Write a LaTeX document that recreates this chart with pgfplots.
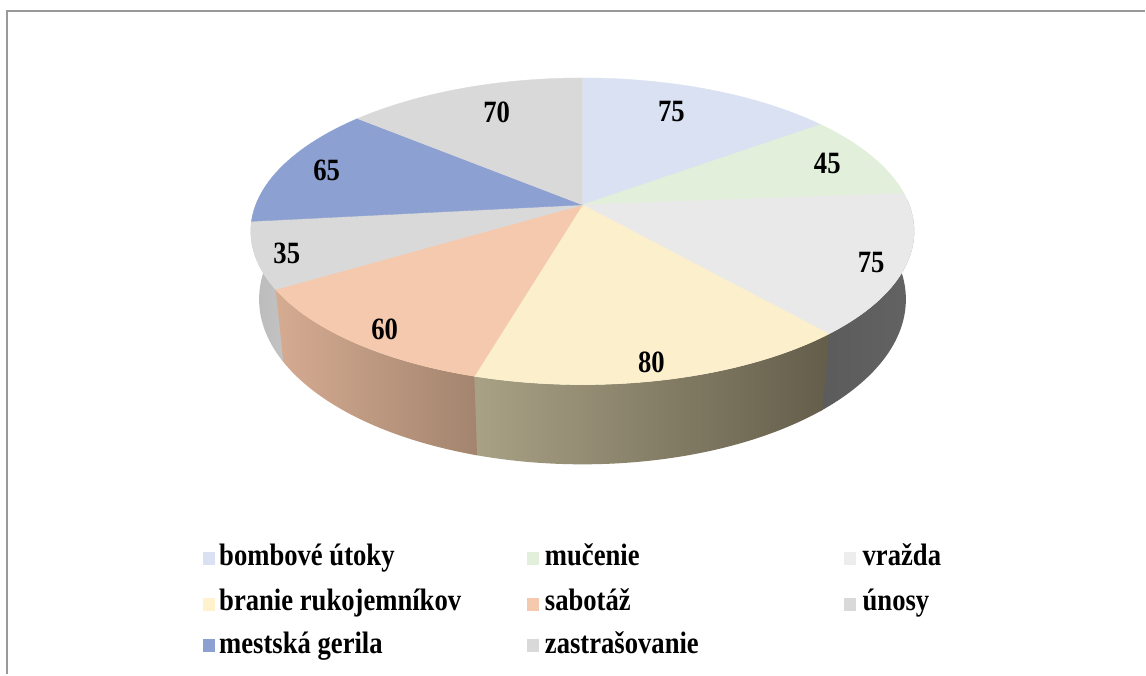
\documentclass[border=0pt]{standalone}
\usepackage{pgfplots}
\pgfplotsset{compat=1.18}
\usepackage{fontspec}
\setmainfont{Liberation Serif}[FakeStretch=0.86]

\definecolor{cA}{HTML}{D9E1F2}
\definecolor{cB}{HTML}{E2EFDA}
\definecolor{cC}{HTML}{E9E9E9}
\definecolor{cD}{HTML}{FCEFCB}
\definecolor{cE}{HTML}{F5C9AD}
\definecolor{cF}{HTML}{D9D9D9}
\definecolor{cG}{HTML}{8DA0D2}
\definecolor{cH}{HTML}{D9D9D9}
\definecolor{sCa}{HTML}{5B5B5B}
\definecolor{sCb}{HTML}{636363}
\definecolor{sDa}{HTML}{ABA387}
\definecolor{sDb}{HTML}{645D4A}
\definecolor{sEa}{HTML}{D6AC92}
\definecolor{sEb}{HTML}{A3846E}
\definecolor{sFa}{HTML}{BBBBBB}
\definecolor{sFb}{HTML}{C2C2C2}
\definecolor{frame}{HTML}{999999}
\definecolor{lC}{HTML}{EDEDED}
\definecolor{lD}{HTML}{FFF2CC}

% data
\def\vA{75}\def\vB{45}\def\vC{75}\def\vD{80}
\def\vE{60}\def\vF{35}\def\vG{65}\def\vH{70}
\pgfmathsetmacro\tot{\vA+\vB+\vC+\vD+\vE+\vF+\vG+\vH}
\pgfmathsetmacro\aA{0}
\pgfmathsetmacro\aB{\aA+360*(\vA/\tot)}
\pgfmathsetmacro\aC{\aB+360*(\vB/\tot)}
\pgfmathsetmacro\aD{\aC+360*(\vC/\tot)}
\pgfmathsetmacro\aE{\aD+360*(\vD/\tot)}
\pgfmathsetmacro\aF{\aE+360*(\vE/\tot)}
\pgfmathsetmacro\aG{\aF+360*(\vF/\tot)}
\pgfmathsetmacro\aH{\aG+360*(\vG/\tot)}
\def\aI{360}
% slightly overlapping ends for the side walls
\pgfmathsetmacro\eD{\aD+1.2}
\pgfmathsetmacro\eE{\aE+1.2}
\pgfmathsetmacro\eF{\aF+1.2}

\newcommand\lblfont{\fontsize{15.5pt}{18pt}\selectfont\bfseries}

\begin{document}
\begin{tikzpicture}
\begin{axis}[
  width=573pt, height=337.5pt, scale only axis,
  xmin=0, xmax=1146, ymin=0, ymax=675, y dir=reverse,
  hide axis, clip=false,
  declare function={
    DD(\p)=1+0.1726*cos(\p);
    TX(\p)=583+327*sin(\p)/DD(\p);
    TY(\p)=205-148.9*cos(\p)/DD(\p);
    BX(\p)=583+0.975*327*sin(\p)/DD(\p);
    BY(\p)=205+(66-148.9*cos(\p))/DD(\p);
    PP(\t,\a,\b)=(\t<=1) ? (\a+\t*(\b-\a)) : (\b-(\t-1)*(\b-\a));
    SX(\t,\a,\b)=(\t<=1) ? TX(PP(\t,\a,\b)) : BX(PP(\t,\a,\b));
    SY(\t,\a,\b)=(\t<=1) ? TY(PP(\t,\a,\b)) : BY(PP(\t,\a,\b));
  },
]
\path (axis cs:0,0) rectangle (axis cs:1146,675);
\draw[line width=1pt, frame] (axis cs:7,675) -- (axis cs:7,11) -- (axis cs:1146,11);

% side walls
\addplot[draw=none, left color=sCa, right color=sCb, domain=0:2, samples=201]
  ({SX(x,88,\eD)},{SY(x,88,\eD)}) -- cycle;
\addplot[draw=none, left color=sDa, right color=sDb, domain=0:2, samples=201]
  ({SX(x,\aD,\eE)},{SY(x,\aD,\eE)}) -- cycle;
\addplot[draw=none, left color=sEa, right color=sEb, domain=0:2, samples=201]
  ({SX(x,\aE,\eF)},{SY(x,\aE,\eF)}) -- cycle;
\addplot[draw=none, left color=sFa, right color=sFb, domain=0:2, samples=201]
  ({SX(x,\aF,272)},{SY(x,\aF,272)}) -- cycle;

% top face
\addplot[fill=cA, draw=cA, line width=0.2pt, domain=\aA:\aB, samples=60] ({TX(x)},{TY(x)}) -- (axis cs:583,205) -- cycle;
\addplot[fill=cB, draw=cB, line width=0.2pt, domain=\aB:\aC, samples=60] ({TX(x)},{TY(x)}) -- (axis cs:583,205) -- cycle;
\addplot[fill=cC, draw=cC, line width=0.2pt, domain=\aC:\aD, samples=60] ({TX(x)},{TY(x)}) -- (axis cs:583,205) -- cycle;
\addplot[fill=cD, draw=cD, line width=0.2pt, domain=\aD:\aE, samples=60] ({TX(x)},{TY(x)}) -- (axis cs:583,205) -- cycle;
\addplot[fill=cE, draw=cE, line width=0.2pt, domain=\aE:\aF, samples=60] ({TX(x)},{TY(x)}) -- (axis cs:583,205) -- cycle;
\addplot[fill=cF, draw=cF, line width=0.2pt, domain=\aF:\aG, samples=60] ({TX(x)},{TY(x)}) -- (axis cs:583,205) -- cycle;
\addplot[fill=cG, draw=cG, line width=0.2pt, domain=\aG:\aH, samples=60] ({TX(x)},{TY(x)}) -- (axis cs:583,205) -- cycle;
\addplot[fill=cH, draw=cH, line width=0.2pt, domain=\aH:\aI, samples=60] ({TX(x)},{TY(x)}) -- (axis cs:583,205) -- cycle;

% data labels
\node[font=\lblfont] at (axis cs:672,112) {\vA};
\node[font=\lblfont] at (axis cs:828,164) {\vB};
\node[font=\lblfont] at (axis cs:872,263) {\vC};
\node[font=\lblfont] at (axis cs:652,363) {\vD};
\node[font=\lblfont] at (axis cs:385,330) {\vE};
\node[font=\lblfont] at (axis cs:287,254) {\vF};
\node[font=\lblfont] at (axis cs:327,171) {\vG};
\node[font=\lblfont] at (axis cs:497,112) {\vH};

% legend
\fill[cA] (axis cs:203,552) rectangle (axis cs:215,565);
\node[font=\lblfont, anchor=base west, inner sep=0pt] at (axis cs:219,566) {bombové útoky};
\fill[cB] (axis cs:527,552) rectangle (axis cs:539,565);
\node[font=\lblfont, anchor=base west, inner sep=0pt] at (axis cs:545,566) {mučenie};
\fill[lC] (axis cs:845,552) rectangle (axis cs:857,565);
\node[font=\lblfont, anchor=base west, inner sep=0pt] at (axis cs:863,566) {vražda};
\fill[lD] (axis cs:203,599) rectangle (axis cs:215,612);
\node[font=\lblfont, anchor=base west, inner sep=0pt] at (axis cs:219,611) {branie rukojemníkov};
\fill[cE] (axis cs:527,599) rectangle (axis cs:539,612);
\node[font=\lblfont, anchor=base west, inner sep=0pt] at (axis cs:545,611) {sabotáž};
\fill[cF] (axis cs:845,599) rectangle (axis cs:857,612);
\node[font=\lblfont, anchor=base west, inner sep=0pt] at (axis cs:863,611) {únosy};
\fill[cG] (axis cs:203,640) rectangle (axis cs:215,653);
\node[font=\lblfont, anchor=base west, inner sep=0pt] at (axis cs:219,654) {mestská gerila};
\fill[cH] (axis cs:527,640) rectangle (axis cs:539,653);
\node[font=\lblfont, anchor=base west, inner sep=0pt] at (axis cs:545,654) {zastrašovanie};
\end{axis}
\end{tikzpicture}
\end{document}
